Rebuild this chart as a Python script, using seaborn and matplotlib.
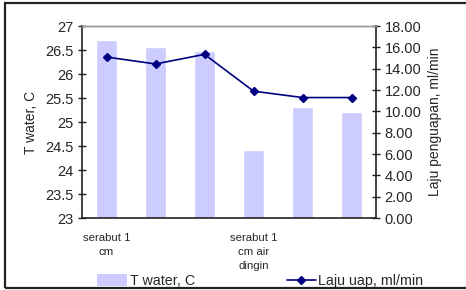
import numpy as np
import pandas as pd
import matplotlib
matplotlib.use("Agg")
import matplotlib.pyplot as plt
import seaborn as sns
from matplotlib.patches import Rectangle, Patch
from matplotlib.lines import Line2D

# data
categories = ["serabut 1\ncm", "", "", "serabut 1\ncm air\ndingin", "", ""]
t_water = [26.72, 26.56, 26.48, 24.42, 25.32, 25.22]
laju_uap = [15.1, 14.45, 15.35, 11.9, 11.3, 11.3]
left_ticks = [23, 23.5, 24, 24.5, 25, 25.5, 26, 26.5, 27]
right_ticks = [0, 2, 4, 6, 8, 10, 12, 14, 16, 18]

bar_color = "#CCCCFF"
line_color = "#000080"

sns.set_style("white")
plt.rcParams["font.family"] = ["Liberation Sans", "DejaVu Sans"]

df = pd.DataFrame({
    "pos": [f"c{i}" for i in range(len(categories))],
    "t_water": t_water,
    "laju_uap": laju_uap,
})

fig = plt.figure(figsize=(4.66, 2.90), dpi=100)
ax = fig.add_axes([0.176, 0.248, 0.631, 0.662])

sns.barplot(data=df, x="pos", y="t_water", color=bar_color, width=0.42,
            saturation=1, ax=ax)
ax.set_ylim(23, 27)
ax.set_xlim(-0.5, len(categories) - 0.5)
ax.set_yticks(left_ticks)
ax.set_yticklabels([f"{v:g}" for v in left_ticks], fontsize=10.5)
ax.set_ylabel("T water, C", fontsize=10, labelpad=5)
ax.set_xlabel("")

# category labels at centres, tick marks at the boundaries
ax.set_xticks(range(len(categories)))
ax.set_xticklabels(categories, fontsize=8.2, linespacing=1.45, va="top")
ax.set_xticks(np.arange(0.5, len(categories) - 0.5, 1), minor=True)
ax.tick_params(axis="x", which="major", length=0, pad=11)
ax.tick_params(axis="x", which="minor", length=5, width=1, direction="inout",
               color="#222222")
ax.tick_params(axis="y", length=6, width=1, direction="inout", color="#222222",
               pad=3)

ax2 = ax.twinx()
ax2.plot(range(len(laju_uap)), laju_uap, color=line_color, lw=1.2,
         marker="D", markersize=4.5)
ax2.set_ylim(0, 18)
ax2.set_yticks(right_ticks)
ax2.set_yticklabels([f"{v:.2f}" for v in right_ticks], fontsize=10.5)
ax2.set_ylabel("Laju penguapan, ml/min", fontsize=10, labelpad=5)
ax2.tick_params(axis="y", length=6, width=1, direction="inout",
                color="#222222", pad=3)

for a in (ax, ax2):
    for side in ("left", "bottom", "right"):
        a.spines[side].set_color("#222222")
        a.spines[side].set_linewidth(1.2)
    a.spines["top"].set_color("#999999")
    a.spines["top"].set_linewidth(1)
ax.spines["right"].set_visible(False)
ax2.spines["left"].set_visible(False)
ax2.spines["bottom"].set_visible(False)

bar_handle = Patch(facecolor=bar_color, edgecolor="none", label="T water, C")
line_handle = Line2D([0], [0], color=line_color, lw=1.2, marker="D",
                     markersize=4, label="Laju uap, ml/min")
leg1 = fig.legend(handles=[bar_handle], loc="center left",
                  bbox_to_anchor=(97 / 466, 1 - 281 / 290), frameon=False,
                  fontsize=10.3, handlelength=2.1, handleheight=0.9,
                  handletextpad=0.2, borderpad=0, borderaxespad=0)
leg2 = fig.legend(handles=[line_handle], loc="center left",
                  bbox_to_anchor=(287 / 466, 1 - 281 / 290), frameon=False,
                  fontsize=10.3, handlelength=2.0, handletextpad=0.2,
                  borderpad=0, borderaxespad=0)

fig.add_artist(Rectangle((0.011, 0.007), 1.2, 0.983, transform=fig.transFigure,
                         fill=False, edgecolor="#222222", lw=1.6))

fig.savefig("out.png", dpi=100)
